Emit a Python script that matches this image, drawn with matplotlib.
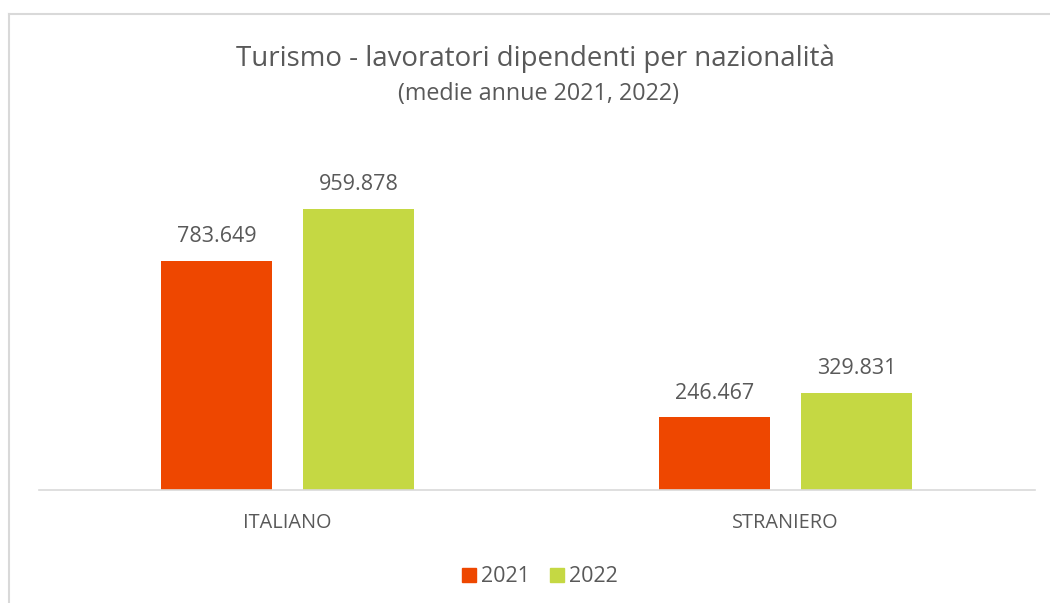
import numpy as np
import matplotlib
matplotlib.use("Agg")
from matplotlib import pyplot as plt
from matplotlib.lines import Line2D
from matplotlib.patches import Patch

categories = ["ITALIANO", "STRANIERO"]
years = ["2021", "2022"]
values_2021 = [783649, 246467]
values_2022 = [959878, 329831]

def fmt(v):
    return f"{v:,}".replace(",", ".")

plt.rcParams['font.family'] = ['Open Sans', 'DejaVu Sans']
grey = '#595959'
c21 = '#EE4700'
c22 = '#C5D843'

fig = plt.figure(figsize=(10.5, 6.03), dpi=100)
W, H = 1050, 603

# chart border (top and left visible, rest cropped)
fig.add_artist(Line2D([8.5 / W, 8.5 / W], [0, 1 - 13.5 / H], color='#D9D9D9', lw=1.5))
fig.add_artist(Line2D([8.5 / W, 1], [1 - 13.5 / H, 1 - 13.5 / H], color='#D9D9D9', lw=1.5))

ax = fig.add_axes([38.5 / W, 1 - 489.5 / H, 996 / W, 351.5 / H])
x = np.arange(len(categories))
bw = 111 / 498
gap = 31 / 498
b1 = ax.bar(x - (bw + gap) / 2, values_2021, bw, color=c21, label=years[0])
b2 = ax.bar(x + (bw + gap) / 2, values_2022, bw, color=c22, label=years[1])

for bars, vals in [(b1, values_2021), (b2, values_2022)]:
    for r, v in zip(bars, vals):
        ax.annotate(fmt(v), (r.get_x() + r.get_width() / 2, v), xytext=(0, 17.5),
                    textcoords='offset points', ha='center', va='center',
                    fontsize=15.5, color=grey)

ax.set_xlim(-0.5, 1.5)
ax.set_ylim(0, 1203000)
ax.set_yticks([])
ax.set_xticks(x)
ax.set_xticklabels(categories, fontsize=14.3, color=grey)
ax.tick_params(axis='x', length=0, pad=17)
for s in ['top', 'right', 'left']:
    ax.spines[s].set_visible(False)
ax.spines['bottom'].set_color('#D9D9D9')
ax.spines['bottom'].set_linewidth(1.2)

fig.text(535 / W, 1 - 59 / H, "Turismo - lavoratori dipendenti per nazionalità",
         ha='center', va='center', fontsize=19.9, color=grey)
fig.text(539 / W, 1 - 94 / H, "(medie annue 2021, 2022)",
         ha='center', va='center', fontsize=16.8, color=grey)

handles = [Patch(color=c21), Patch(color=c22)]
fig.legend(handles, years, loc='center', bbox_to_anchor=(540 / W, 1 - 577 / H),
           ncol=2, frameon=False, fontsize=15.5, labelcolor=grey,
           handlelength=0.65, handleheight=0.65, handletextpad=0.25, columnspacing=0.9)

fig.savefig("out.png", dpi=100)
